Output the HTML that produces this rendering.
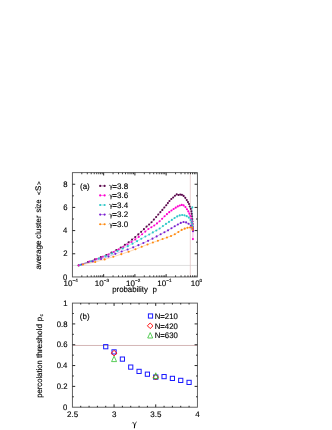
<!DOCTYPE html>
<html><head><meta charset="utf-8"><title>figure</title>
<style>
html,body{margin:0;padding:0;background:#fff;}
body{width:332px;height:430px;overflow:hidden;font-family:"Liberation Sans",sans-serif;}
svg{display:block;}
svg text{font-family:"Liberation Sans",sans-serif;text-rendering:geometricPrecision;stroke:#000;stroke-width:0.14px;}
svg{filter:blur(0.3px);}
</style></head><body>
<svg width="332" height="430" viewBox="0 0 332 430">
<rect x="0" y="0" width="332" height="430" fill="#ffffff"/>
<line x1="72.40" y1="265.45" x2="197.40" y2="265.45" stroke="#c4c4c4" stroke-width="0.55" />
<line x1="190.31" y1="172.65" x2="190.31" y2="276.95" stroke="#e0c0c0" stroke-width="0.75" />
<path d="M78.60,265.38 L88.00,261.93 L94.92,259.40 L100.86,257.10 L106.36,254.94 L111.48,252.50 L116.29,250.02 L120.78,247.57 L124.89,244.78 L128.63,242.23 L132.05,239.60 L135.25,236.94 L138.29,234.42 L141.17,231.85 L143.93,229.14 L146.57,226.62 L149.11,224.48 L151.54,222.29 L153.88,219.61 L156.13,217.02 L158.28,214.52 L160.35,212.14 L162.34,209.88 L164.31,207.56 L166.24,205.18 L167.86,203.12 L169.46,201.00 L171.32,199.05 L173.15,197.49 L174.96,195.69 L176.73,194.33 L178.48,195.03 L180.20,194.62 L181.90,194.83 L183.60,195.90 L185.30,197.85 L186.75,200.12 L187.98,202.10 L189.02,204.03 L189.77,206.46 L190.82,208.86 L191.46,211.36 L191.85,213.86 L192.10,216.33 L192.30,218.93 L192.48,221.60 L192.62,224.05 L192.75,227.00" fill="none" stroke="#5c0a4e" stroke-width="0.32"/>
<g fill="#5c0a4e"><circle cx="78.60" cy="265.38" r="1.05"/><circle cx="88.00" cy="261.93" r="1.05"/><circle cx="94.92" cy="259.40" r="1.05"/><circle cx="100.86" cy="257.10" r="1.05"/><circle cx="106.36" cy="254.94" r="1.05"/><circle cx="111.48" cy="252.50" r="1.05"/><circle cx="116.29" cy="250.02" r="1.05"/><circle cx="120.78" cy="247.57" r="1.05"/><circle cx="124.89" cy="244.78" r="1.05"/><circle cx="128.63" cy="242.23" r="1.05"/><circle cx="132.05" cy="239.60" r="1.05"/><circle cx="135.25" cy="236.94" r="1.05"/><circle cx="138.29" cy="234.42" r="1.05"/><circle cx="141.17" cy="231.85" r="1.05"/><circle cx="143.93" cy="229.14" r="1.05"/><circle cx="146.57" cy="226.62" r="1.05"/><circle cx="149.11" cy="224.48" r="1.05"/><circle cx="151.54" cy="222.29" r="1.05"/><circle cx="153.88" cy="219.61" r="1.05"/><circle cx="156.13" cy="217.02" r="1.05"/><circle cx="158.28" cy="214.52" r="1.05"/><circle cx="160.35" cy="212.14" r="1.05"/><circle cx="162.34" cy="209.88" r="1.05"/><circle cx="164.31" cy="207.56" r="1.05"/><circle cx="166.24" cy="205.18" r="1.05"/><circle cx="167.86" cy="203.12" r="1.05"/><circle cx="169.46" cy="201.00" r="1.05"/><circle cx="171.32" cy="199.05" r="1.05"/><circle cx="173.15" cy="197.49" r="1.05"/><circle cx="174.96" cy="195.69" r="1.05"/><circle cx="176.73" cy="194.33" r="1.05"/><circle cx="178.48" cy="195.03" r="1.05"/><circle cx="180.20" cy="194.62" r="1.05"/><circle cx="181.90" cy="194.83" r="1.05"/><circle cx="183.60" cy="195.90" r="1.05"/><circle cx="185.30" cy="197.85" r="1.05"/><circle cx="186.75" cy="200.12" r="1.05"/><circle cx="187.98" cy="202.10" r="1.05"/><circle cx="189.02" cy="204.03" r="1.05"/><circle cx="189.77" cy="206.46" r="1.05"/><circle cx="190.82" cy="208.86" r="1.05"/><circle cx="191.46" cy="211.36" r="1.05"/><circle cx="191.85" cy="213.86" r="1.05"/><circle cx="192.10" cy="216.33" r="1.05"/><circle cx="192.30" cy="218.93" r="1.05"/><circle cx="192.48" cy="221.60" r="1.05"/><circle cx="192.62" cy="224.05" r="1.05"/><circle cx="192.75" cy="227.00" r="1.05"/></g>
<path d="M79.00,265.24 L89.40,261.55 L96.42,259.05 L102.70,256.74 L108.49,254.56 L113.81,251.94 L118.70,249.54 L123.26,247.01 L127.53,244.54 L131.51,242.03 L135.24,239.38 L138.73,236.90 L142.08,234.26 L145.30,231.58 L148.40,229.00 L151.37,227.21 L154.23,225.48 L156.97,223.40 L159.61,221.31 L162.14,218.76 L164.58,216.25 L166.93,214.15 L169.23,212.17 L171.46,210.57 L173.63,209.02 L175.74,207.63 L177.79,206.39 L179.79,205.56 L181.73,204.92 L183.62,205.41 L185.46,207.11 L186.99,209.18 L188.29,211.40 L189.39,213.67 L190.33,216.02 L191.27,218.69 L191.95,221.47 L192.37,223.86 L192.67,226.33 L192.85,229.10 L192.95,230.70 L192.90,239.10" fill="none" stroke="#ff00d0" stroke-width="0.32"/>
<g fill="#ff00d0"><circle cx="79.00" cy="265.24" r="1.05"/><circle cx="89.40" cy="261.55" r="1.05"/><circle cx="96.42" cy="259.05" r="1.05"/><circle cx="102.70" cy="256.74" r="1.05"/><circle cx="108.49" cy="254.56" r="1.05"/><circle cx="113.81" cy="251.94" r="1.05"/><circle cx="118.70" cy="249.54" r="1.05"/><circle cx="123.26" cy="247.01" r="1.05"/><circle cx="127.53" cy="244.54" r="1.05"/><circle cx="131.51" cy="242.03" r="1.05"/><circle cx="135.24" cy="239.38" r="1.05"/><circle cx="138.73" cy="236.90" r="1.05"/><circle cx="142.08" cy="234.26" r="1.05"/><circle cx="145.30" cy="231.58" r="1.05"/><circle cx="148.40" cy="229.00" r="1.05"/><circle cx="151.37" cy="227.21" r="1.05"/><circle cx="154.23" cy="225.48" r="1.05"/><circle cx="156.97" cy="223.40" r="1.05"/><circle cx="159.61" cy="221.31" r="1.05"/><circle cx="162.14" cy="218.76" r="1.05"/><circle cx="164.58" cy="216.25" r="1.05"/><circle cx="166.93" cy="214.15" r="1.05"/><circle cx="169.23" cy="212.17" r="1.05"/><circle cx="171.46" cy="210.57" r="1.05"/><circle cx="173.63" cy="209.02" r="1.05"/><circle cx="175.74" cy="207.63" r="1.05"/><circle cx="177.79" cy="206.39" r="1.05"/><circle cx="179.79" cy="205.56" r="1.05"/><circle cx="181.73" cy="204.92" r="1.05"/><circle cx="183.62" cy="205.41" r="1.05"/><circle cx="185.46" cy="207.11" r="1.05"/><circle cx="186.99" cy="209.18" r="1.05"/><circle cx="188.29" cy="211.40" r="1.05"/><circle cx="189.39" cy="213.67" r="1.05"/><circle cx="190.33" cy="216.02" r="1.05"/><circle cx="191.27" cy="218.69" r="1.05"/><circle cx="191.95" cy="221.47" r="1.05"/><circle cx="192.37" cy="223.86" r="1.05"/><circle cx="192.67" cy="226.33" r="1.05"/><circle cx="192.85" cy="229.10" r="1.05"/><circle cx="192.95" cy="230.70" r="1.05"/><circle cx="192.90" cy="239.10" r="1.05"/></g>
<path d="M80.30,264.83 L91.21,261.20 L98.85,258.58 L105.65,256.14 L111.86,253.56 L117.54,251.01 L122.81,248.55 L127.81,246.15 L132.55,243.67 L137.04,241.16 L141.31,238.78 L145.36,236.55 L149.20,234.44 L152.84,232.42 L156.33,230.48 L159.68,228.50 L162.90,226.11 L166.00,223.91 L168.98,221.92 L171.84,219.88 L174.58,218.03 L177.21,216.39 L179.74,215.39 L182.16,214.95 L184.48,215.36 L186.70,216.17 L188.84,217.61 L190.58,220.04 L191.62,222.52 L192.26,224.98 L192.60,227.00 L192.30,207.40" fill="none" stroke="#2ec8c8" stroke-width="0.32"/>
<g fill="#2ec8c8"><circle cx="80.30" cy="264.83" r="1.05"/><circle cx="91.21" cy="261.20" r="1.05"/><circle cx="98.85" cy="258.58" r="1.05"/><circle cx="105.65" cy="256.14" r="1.05"/><circle cx="111.86" cy="253.56" r="1.05"/><circle cx="117.54" cy="251.01" r="1.05"/><circle cx="122.81" cy="248.55" r="1.05"/><circle cx="127.81" cy="246.15" r="1.05"/><circle cx="132.55" cy="243.67" r="1.05"/><circle cx="137.04" cy="241.16" r="1.05"/><circle cx="141.31" cy="238.78" r="1.05"/><circle cx="145.36" cy="236.55" r="1.05"/><circle cx="149.20" cy="234.44" r="1.05"/><circle cx="152.84" cy="232.42" r="1.05"/><circle cx="156.33" cy="230.48" r="1.05"/><circle cx="159.68" cy="228.50" r="1.05"/><circle cx="162.90" cy="226.11" r="1.05"/><circle cx="166.00" cy="223.91" r="1.05"/><circle cx="168.98" cy="221.92" r="1.05"/><circle cx="171.84" cy="219.88" r="1.05"/><circle cx="174.58" cy="218.03" r="1.05"/><circle cx="177.21" cy="216.39" r="1.05"/><circle cx="179.74" cy="215.39" r="1.05"/><circle cx="182.16" cy="214.95" r="1.05"/><circle cx="184.48" cy="215.36" r="1.05"/><circle cx="186.70" cy="216.17" r="1.05"/><circle cx="188.84" cy="217.61" r="1.05"/><circle cx="190.58" cy="220.04" r="1.05"/><circle cx="191.62" cy="222.52" r="1.05"/><circle cx="192.26" cy="224.98" r="1.05"/><circle cx="192.60" cy="227.00" r="1.05"/><circle cx="192.30" cy="207.40" r="1.05"/></g>
<path d="M81.70,264.55 L92.77,261.42 L101.03,258.95 L108.53,256.59 L115.39,253.84 L121.67,251.45 L127.59,249.50 L133.17,247.37 L138.43,245.16 L143.39,242.97 L148.07,240.87 L152.48,238.66 L156.66,236.40 L160.64,234.26 L164.43,232.25 L168.04,230.34 L171.47,228.32 L174.74,226.23 L177.85,224.47 L180.78,222.89 L183.54,222.07 L186.12,222.41 L188.56,223.70 L190.84,225.79 L192.43,228.34 L192.70,229.20 L193.00,231.30" fill="none" stroke="#7a1fd0" stroke-width="0.32"/>
<g fill="#7a1fd0"><circle cx="81.70" cy="264.55" r="1.05"/><circle cx="92.77" cy="261.42" r="1.05"/><circle cx="101.03" cy="258.95" r="1.05"/><circle cx="108.53" cy="256.59" r="1.05"/><circle cx="115.39" cy="253.84" r="1.05"/><circle cx="121.67" cy="251.45" r="1.05"/><circle cx="127.59" cy="249.50" r="1.05"/><circle cx="133.17" cy="247.37" r="1.05"/><circle cx="138.43" cy="245.16" r="1.05"/><circle cx="143.39" cy="242.97" r="1.05"/><circle cx="148.07" cy="240.87" r="1.05"/><circle cx="152.48" cy="238.66" r="1.05"/><circle cx="156.66" cy="236.40" r="1.05"/><circle cx="160.64" cy="234.26" r="1.05"/><circle cx="164.43" cy="232.25" r="1.05"/><circle cx="168.04" cy="230.34" r="1.05"/><circle cx="171.47" cy="228.32" r="1.05"/><circle cx="174.74" cy="226.23" r="1.05"/><circle cx="177.85" cy="224.47" r="1.05"/><circle cx="180.78" cy="222.89" r="1.05"/><circle cx="183.54" cy="222.07" r="1.05"/><circle cx="186.12" cy="222.41" r="1.05"/><circle cx="188.56" cy="223.70" r="1.05"/><circle cx="190.84" cy="225.79" r="1.05"/><circle cx="192.43" cy="228.34" r="1.05"/><circle cx="192.70" cy="229.20" r="1.05"/><circle cx="193.00" cy="231.30" r="1.05"/></g>
<path d="M83.00,264.54 L95.20,261.97 L104.68,259.41 L113.36,256.76 L121.30,254.17 L128.63,251.75 L135.42,249.24 L141.70,246.82 L147.52,244.49 L152.90,242.48 L157.91,240.73 L162.58,239.07 L166.94,237.50 L171.01,235.96 L174.81,234.25 L178.36,232.02 L181.65,229.91 L184.70,228.67 L187.50,227.73 L190.10,227.43 L192.20,227.60 L192.60,229.70" fill="none" stroke="#ff8a10" stroke-width="0.32"/>
<g fill="#ff8a10"><circle cx="83.00" cy="264.54" r="1.05"/><circle cx="95.20" cy="261.97" r="1.05"/><circle cx="104.68" cy="259.41" r="1.05"/><circle cx="113.36" cy="256.76" r="1.05"/><circle cx="121.30" cy="254.17" r="1.05"/><circle cx="128.63" cy="251.75" r="1.05"/><circle cx="135.42" cy="249.24" r="1.05"/><circle cx="141.70" cy="246.82" r="1.05"/><circle cx="147.52" cy="244.49" r="1.05"/><circle cx="152.90" cy="242.48" r="1.05"/><circle cx="157.91" cy="240.73" r="1.05"/><circle cx="162.58" cy="239.07" r="1.05"/><circle cx="166.94" cy="237.50" r="1.05"/><circle cx="171.01" cy="235.96" r="1.05"/><circle cx="174.81" cy="234.25" r="1.05"/><circle cx="178.36" cy="232.02" r="1.05"/><circle cx="181.65" cy="229.91" r="1.05"/><circle cx="184.70" cy="228.67" r="1.05"/><circle cx="187.50" cy="227.73" r="1.05"/><circle cx="190.10" cy="227.43" r="1.05"/><circle cx="192.20" cy="227.60" r="1.05"/><circle cx="192.60" cy="229.70" r="1.05"/></g>
<rect x="72.4" y="172.65" width="125.00" height="104.30" fill="none" stroke="#505050" stroke-width="0.9"/>
<text x="63.12" y="279.55" font-size="8.0" fill="#000" textLength="4.27" lengthAdjust="spacingAndGlyphs">0</text>
<line x1="72.40" y1="253.77" x2="75.20" y2="253.77" stroke="#1a1a1a" stroke-width="0.95" />
<line x1="197.40" y1="253.77" x2="194.60" y2="253.77" stroke="#1a1a1a" stroke-width="0.95" />
<text x="63.21" y="256.37" font-size="8.0" fill="#000" textLength="4.27" lengthAdjust="spacingAndGlyphs">2</text>
<line x1="72.40" y1="242.18" x2="73.80" y2="242.18" stroke="#1a1a1a" stroke-width="0.95" />
<line x1="197.40" y1="242.18" x2="196.00" y2="242.18" stroke="#1a1a1a" stroke-width="0.95" />
<line x1="72.40" y1="230.59" x2="75.20" y2="230.59" stroke="#1a1a1a" stroke-width="0.95" />
<line x1="197.40" y1="230.59" x2="194.60" y2="230.59" stroke="#1a1a1a" stroke-width="0.95" />
<text x="63.05" y="233.19" font-size="8.0" fill="#000" textLength="4.27" lengthAdjust="spacingAndGlyphs">4</text>
<line x1="72.40" y1="219.01" x2="73.80" y2="219.01" stroke="#1a1a1a" stroke-width="0.95" />
<line x1="197.40" y1="219.01" x2="196.00" y2="219.01" stroke="#1a1a1a" stroke-width="0.95" />
<line x1="72.40" y1="207.42" x2="75.20" y2="207.42" stroke="#1a1a1a" stroke-width="0.95" />
<line x1="197.40" y1="207.42" x2="194.60" y2="207.42" stroke="#1a1a1a" stroke-width="0.95" />
<text x="63.16" y="210.02" font-size="8.0" fill="#000" textLength="4.27" lengthAdjust="spacingAndGlyphs">6</text>
<line x1="72.40" y1="195.83" x2="73.80" y2="195.83" stroke="#1a1a1a" stroke-width="0.95" />
<line x1="197.40" y1="195.83" x2="196.00" y2="195.83" stroke="#1a1a1a" stroke-width="0.95" />
<line x1="72.40" y1="184.24" x2="75.20" y2="184.24" stroke="#1a1a1a" stroke-width="0.95" />
<line x1="197.40" y1="184.24" x2="194.60" y2="184.24" stroke="#1a1a1a" stroke-width="0.95" />
<text x="63.16" y="186.84" font-size="8.0" fill="#000" textLength="4.27" lengthAdjust="spacingAndGlyphs">8</text>
<line x1="81.81" y1="276.95" x2="81.81" y2="275.35" stroke="#1a1a1a" stroke-width="0.85" />
<line x1="81.81" y1="172.65" x2="81.81" y2="174.25" stroke="#1a1a1a" stroke-width="0.85" />
<line x1="87.31" y1="276.95" x2="87.31" y2="275.35" stroke="#1a1a1a" stroke-width="0.85" />
<line x1="87.31" y1="172.65" x2="87.31" y2="174.25" stroke="#1a1a1a" stroke-width="0.85" />
<line x1="91.21" y1="276.95" x2="91.21" y2="275.35" stroke="#1a1a1a" stroke-width="0.85" />
<line x1="91.21" y1="172.65" x2="91.21" y2="174.25" stroke="#1a1a1a" stroke-width="0.85" />
<line x1="94.24" y1="276.95" x2="94.24" y2="275.35" stroke="#1a1a1a" stroke-width="0.85" />
<line x1="94.24" y1="172.65" x2="94.24" y2="174.25" stroke="#1a1a1a" stroke-width="0.85" />
<line x1="96.72" y1="276.95" x2="96.72" y2="275.35" stroke="#1a1a1a" stroke-width="0.85" />
<line x1="96.72" y1="172.65" x2="96.72" y2="174.25" stroke="#1a1a1a" stroke-width="0.85" />
<line x1="98.81" y1="276.95" x2="98.81" y2="275.35" stroke="#1a1a1a" stroke-width="0.85" />
<line x1="98.81" y1="172.65" x2="98.81" y2="174.25" stroke="#1a1a1a" stroke-width="0.85" />
<line x1="100.62" y1="276.95" x2="100.62" y2="275.35" stroke="#1a1a1a" stroke-width="0.85" />
<line x1="100.62" y1="172.65" x2="100.62" y2="174.25" stroke="#1a1a1a" stroke-width="0.85" />
<line x1="102.22" y1="276.95" x2="102.22" y2="275.35" stroke="#1a1a1a" stroke-width="0.85" />
<line x1="102.22" y1="172.65" x2="102.22" y2="174.25" stroke="#1a1a1a" stroke-width="0.85" />
<text x="63.60" y="285.6" font-size="8" fill="#000">10<tspan font-size="4.6" dy="-3.6">&#8722;4</tspan></text>
<line x1="103.65" y1="276.95" x2="103.65" y2="274.15" stroke="#1a1a1a" stroke-width="0.95" />
<line x1="103.65" y1="172.65" x2="103.65" y2="175.45" stroke="#1a1a1a" stroke-width="0.95" />
<line x1="113.06" y1="276.95" x2="113.06" y2="275.35" stroke="#1a1a1a" stroke-width="0.85" />
<line x1="113.06" y1="172.65" x2="113.06" y2="174.25" stroke="#1a1a1a" stroke-width="0.85" />
<line x1="118.56" y1="276.95" x2="118.56" y2="275.35" stroke="#1a1a1a" stroke-width="0.85" />
<line x1="118.56" y1="172.65" x2="118.56" y2="174.25" stroke="#1a1a1a" stroke-width="0.85" />
<line x1="122.46" y1="276.95" x2="122.46" y2="275.35" stroke="#1a1a1a" stroke-width="0.85" />
<line x1="122.46" y1="172.65" x2="122.46" y2="174.25" stroke="#1a1a1a" stroke-width="0.85" />
<line x1="125.49" y1="276.95" x2="125.49" y2="275.35" stroke="#1a1a1a" stroke-width="0.85" />
<line x1="125.49" y1="172.65" x2="125.49" y2="174.25" stroke="#1a1a1a" stroke-width="0.85" />
<line x1="127.97" y1="276.95" x2="127.97" y2="275.35" stroke="#1a1a1a" stroke-width="0.85" />
<line x1="127.97" y1="172.65" x2="127.97" y2="174.25" stroke="#1a1a1a" stroke-width="0.85" />
<line x1="130.06" y1="276.95" x2="130.06" y2="275.35" stroke="#1a1a1a" stroke-width="0.85" />
<line x1="130.06" y1="172.65" x2="130.06" y2="174.25" stroke="#1a1a1a" stroke-width="0.85" />
<line x1="131.87" y1="276.95" x2="131.87" y2="275.35" stroke="#1a1a1a" stroke-width="0.85" />
<line x1="131.87" y1="172.65" x2="131.87" y2="174.25" stroke="#1a1a1a" stroke-width="0.85" />
<line x1="133.47" y1="276.95" x2="133.47" y2="275.35" stroke="#1a1a1a" stroke-width="0.85" />
<line x1="133.47" y1="172.65" x2="133.47" y2="174.25" stroke="#1a1a1a" stroke-width="0.85" />
<text x="94.85" y="285.6" font-size="8" fill="#000">10<tspan font-size="4.6" dy="-3.6">&#8722;3</tspan></text>
<line x1="134.90" y1="276.95" x2="134.90" y2="274.15" stroke="#1a1a1a" stroke-width="0.95" />
<line x1="134.90" y1="172.65" x2="134.90" y2="175.45" stroke="#1a1a1a" stroke-width="0.95" />
<line x1="144.31" y1="276.95" x2="144.31" y2="275.35" stroke="#1a1a1a" stroke-width="0.85" />
<line x1="144.31" y1="172.65" x2="144.31" y2="174.25" stroke="#1a1a1a" stroke-width="0.85" />
<line x1="149.81" y1="276.95" x2="149.81" y2="275.35" stroke="#1a1a1a" stroke-width="0.85" />
<line x1="149.81" y1="172.65" x2="149.81" y2="174.25" stroke="#1a1a1a" stroke-width="0.85" />
<line x1="153.71" y1="276.95" x2="153.71" y2="275.35" stroke="#1a1a1a" stroke-width="0.85" />
<line x1="153.71" y1="172.65" x2="153.71" y2="174.25" stroke="#1a1a1a" stroke-width="0.85" />
<line x1="156.74" y1="276.95" x2="156.74" y2="275.35" stroke="#1a1a1a" stroke-width="0.85" />
<line x1="156.74" y1="172.65" x2="156.74" y2="174.25" stroke="#1a1a1a" stroke-width="0.85" />
<line x1="159.22" y1="276.95" x2="159.22" y2="275.35" stroke="#1a1a1a" stroke-width="0.85" />
<line x1="159.22" y1="172.65" x2="159.22" y2="174.25" stroke="#1a1a1a" stroke-width="0.85" />
<line x1="161.31" y1="276.95" x2="161.31" y2="275.35" stroke="#1a1a1a" stroke-width="0.85" />
<line x1="161.31" y1="172.65" x2="161.31" y2="174.25" stroke="#1a1a1a" stroke-width="0.85" />
<line x1="163.12" y1="276.95" x2="163.12" y2="275.35" stroke="#1a1a1a" stroke-width="0.85" />
<line x1="163.12" y1="172.65" x2="163.12" y2="174.25" stroke="#1a1a1a" stroke-width="0.85" />
<line x1="164.72" y1="276.95" x2="164.72" y2="275.35" stroke="#1a1a1a" stroke-width="0.85" />
<line x1="164.72" y1="172.65" x2="164.72" y2="174.25" stroke="#1a1a1a" stroke-width="0.85" />
<text x="126.10" y="285.6" font-size="8" fill="#000">10<tspan font-size="4.6" dy="-3.6">&#8722;2</tspan></text>
<line x1="166.15" y1="276.95" x2="166.15" y2="274.15" stroke="#1a1a1a" stroke-width="0.95" />
<line x1="166.15" y1="172.65" x2="166.15" y2="175.45" stroke="#1a1a1a" stroke-width="0.95" />
<line x1="175.56" y1="276.95" x2="175.56" y2="275.35" stroke="#1a1a1a" stroke-width="0.85" />
<line x1="175.56" y1="172.65" x2="175.56" y2="174.25" stroke="#1a1a1a" stroke-width="0.85" />
<line x1="181.06" y1="276.95" x2="181.06" y2="275.35" stroke="#1a1a1a" stroke-width="0.85" />
<line x1="181.06" y1="172.65" x2="181.06" y2="174.25" stroke="#1a1a1a" stroke-width="0.85" />
<line x1="184.96" y1="276.95" x2="184.96" y2="275.35" stroke="#1a1a1a" stroke-width="0.85" />
<line x1="184.96" y1="172.65" x2="184.96" y2="174.25" stroke="#1a1a1a" stroke-width="0.85" />
<line x1="187.99" y1="276.95" x2="187.99" y2="275.35" stroke="#1a1a1a" stroke-width="0.85" />
<line x1="187.99" y1="172.65" x2="187.99" y2="174.25" stroke="#1a1a1a" stroke-width="0.85" />
<line x1="190.47" y1="276.95" x2="190.47" y2="275.35" stroke="#1a1a1a" stroke-width="0.85" />
<line x1="190.47" y1="172.65" x2="190.47" y2="174.25" stroke="#1a1a1a" stroke-width="0.85" />
<line x1="192.56" y1="276.95" x2="192.56" y2="275.35" stroke="#1a1a1a" stroke-width="0.85" />
<line x1="192.56" y1="172.65" x2="192.56" y2="174.25" stroke="#1a1a1a" stroke-width="0.85" />
<line x1="194.37" y1="276.95" x2="194.37" y2="275.35" stroke="#1a1a1a" stroke-width="0.85" />
<line x1="194.37" y1="172.65" x2="194.37" y2="174.25" stroke="#1a1a1a" stroke-width="0.85" />
<line x1="195.97" y1="276.95" x2="195.97" y2="275.35" stroke="#1a1a1a" stroke-width="0.85" />
<line x1="195.97" y1="172.65" x2="195.97" y2="174.25" stroke="#1a1a1a" stroke-width="0.85" />
<text x="157.35" y="285.6" font-size="8" fill="#000">10<tspan font-size="4.6" dy="-3.6">&#8722;1</tspan></text>
<text x="190.70" y="285.6" font-size="8" fill="#000">10<tspan font-size="4.6" dy="-3.6">0</tspan></text>
<line x1="99.40" y1="185.90" x2="105.40" y2="185.90" stroke="#5c0a4e" stroke-width="0.5" />
<circle cx="100.2" cy="185.9" r="1.05" fill="#5c0a4e"/><circle cx="104.6" cy="185.9" r="1.05" fill="#5c0a4e"/>
<g transform="translate(109.30,188.60) scale(0.82)" fill="none" stroke="#000" stroke-linecap="round" stroke-linejoin="round"><path d="M0,-3.7 Q0.6,-5.0 1.3,-3.8 L2.2,-1.5" stroke-width="0.65"/><path d="M3.8,-4.6 L2.2,-1.5" stroke-width="0.6"/><path d="M2.25,-1.8 L2.0,1.0" stroke-width="0.95"/></g>
<text x="112.30" y="188.60" font-size="8" text-anchor="start" fill="#000" >=3.8</text>
<line x1="99.40" y1="195.40" x2="105.40" y2="195.40" stroke="#ff00d0" stroke-width="0.5" />
<circle cx="100.2" cy="195.4" r="1.05" fill="#ff00d0"/><circle cx="104.6" cy="195.4" r="1.05" fill="#ff00d0"/>
<g transform="translate(109.30,198.10) scale(0.82)" fill="none" stroke="#000" stroke-linecap="round" stroke-linejoin="round"><path d="M0,-3.7 Q0.6,-5.0 1.3,-3.8 L2.2,-1.5" stroke-width="0.65"/><path d="M3.8,-4.6 L2.2,-1.5" stroke-width="0.6"/><path d="M2.25,-1.8 L2.0,1.0" stroke-width="0.95"/></g>
<text x="112.30" y="198.10" font-size="8" text-anchor="start" fill="#000" >=3.6</text>
<line x1="99.40" y1="205.00" x2="105.40" y2="205.00" stroke="#2ec8c8" stroke-width="0.5" />
<circle cx="100.2" cy="205.0" r="1.05" fill="#2ec8c8"/><circle cx="104.6" cy="205.0" r="1.05" fill="#2ec8c8"/>
<g transform="translate(109.30,207.70) scale(0.82)" fill="none" stroke="#000" stroke-linecap="round" stroke-linejoin="round"><path d="M0,-3.7 Q0.6,-5.0 1.3,-3.8 L2.2,-1.5" stroke-width="0.65"/><path d="M3.8,-4.6 L2.2,-1.5" stroke-width="0.6"/><path d="M2.25,-1.8 L2.0,1.0" stroke-width="0.95"/></g>
<text x="112.30" y="207.70" font-size="8" text-anchor="start" fill="#000" >=3.4</text>
<line x1="99.40" y1="214.60" x2="105.40" y2="214.60" stroke="#7a1fd0" stroke-width="0.5" />
<circle cx="100.2" cy="214.6" r="1.05" fill="#7a1fd0"/><circle cx="104.6" cy="214.6" r="1.05" fill="#7a1fd0"/>
<g transform="translate(109.30,217.30) scale(0.82)" fill="none" stroke="#000" stroke-linecap="round" stroke-linejoin="round"><path d="M0,-3.7 Q0.6,-5.0 1.3,-3.8 L2.2,-1.5" stroke-width="0.65"/><path d="M3.8,-4.6 L2.2,-1.5" stroke-width="0.6"/><path d="M2.25,-1.8 L2.0,1.0" stroke-width="0.95"/></g>
<text x="112.30" y="217.30" font-size="8" text-anchor="start" fill="#000" >=3.2</text>
<line x1="99.40" y1="224.30" x2="105.40" y2="224.30" stroke="#ff8a10" stroke-width="0.5" />
<circle cx="100.2" cy="224.3" r="1.05" fill="#ff8a10"/><circle cx="104.6" cy="224.3" r="1.05" fill="#ff8a10"/>
<g transform="translate(109.30,227.00) scale(0.82)" fill="none" stroke="#000" stroke-linecap="round" stroke-linejoin="round"><path d="M0,-3.7 Q0.6,-5.0 1.3,-3.8 L2.2,-1.5" stroke-width="0.65"/><path d="M3.8,-4.6 L2.2,-1.5" stroke-width="0.6"/><path d="M2.25,-1.8 L2.0,1.0" stroke-width="0.95"/></g>
<text x="112.30" y="227.00" font-size="8" text-anchor="start" fill="#000" >=3.0</text>
<text x="80.00" y="188.60" font-size="8" text-anchor="start" fill="#000" >(a)</text>
<text x="112.15" y="292.40" font-size="8.0" fill="#000" textLength="35.82" lengthAdjust="spacingAndGlyphs">probability</text>
<text x="152.59" y="292.40" font-size="8.0" fill="#000" textLength="4.45" lengthAdjust="spacingAndGlyphs">p</text>
<text transform="translate(41.20,269.59) rotate(-90)" font-size="8.0" fill="#000" textLength="28.99" lengthAdjust="spacingAndGlyphs">average</text>
<text transform="translate(41.20,238.68) rotate(-90)" font-size="8.0" fill="#000" textLength="23.26" lengthAdjust="spacingAndGlyphs">cluster</text>
<text transform="translate(41.20,212.55) rotate(-90)" font-size="8.0" fill="#000" textLength="13.13" lengthAdjust="spacingAndGlyphs">size</text>
<text transform="translate(41.20,195.10) rotate(-90)" font-size="6.2" fill="#000" textLength="3.62" lengthAdjust="spacingAndGlyphs">&lt;</text>
<text transform="translate(41.20,191.06) rotate(-90)" font-size="8.0" fill="#000" textLength="5.34" lengthAdjust="spacingAndGlyphs">S</text>
<text transform="translate(41.20,185.10) rotate(-90)" font-size="6.2" fill="#000" textLength="3.62" lengthAdjust="spacingAndGlyphs">&gt;</text>
<line x1="72.40" y1="345.47" x2="197.40" y2="345.47" stroke="#c9a3a3" stroke-width="0.8" />
<rect x="72.4" y="303.1" width="125.00" height="104.10" fill="none" stroke="#505050" stroke-width="0.9"/>
<text x="63.12" y="409.80" font-size="8.0" fill="#000" textLength="4.27" lengthAdjust="spacingAndGlyphs">0</text>
<line x1="72.40" y1="396.79" x2="73.80" y2="396.79" stroke="#1a1a1a" stroke-width="0.95" />
<line x1="197.40" y1="396.79" x2="196.00" y2="396.79" stroke="#1a1a1a" stroke-width="0.95" />
<line x1="72.40" y1="386.38" x2="75.20" y2="386.38" stroke="#1a1a1a" stroke-width="0.95" />
<line x1="197.40" y1="386.38" x2="194.60" y2="386.38" stroke="#1a1a1a" stroke-width="0.95" />
<text x="56.81" y="388.98" font-size="8.0" fill="#000" textLength="10.68" lengthAdjust="spacingAndGlyphs">0.2</text>
<line x1="72.40" y1="375.97" x2="73.80" y2="375.97" stroke="#1a1a1a" stroke-width="0.95" />
<line x1="197.40" y1="375.97" x2="196.00" y2="375.97" stroke="#1a1a1a" stroke-width="0.95" />
<line x1="72.40" y1="365.56" x2="75.20" y2="365.56" stroke="#1a1a1a" stroke-width="0.95" />
<line x1="197.40" y1="365.56" x2="194.60" y2="365.56" stroke="#1a1a1a" stroke-width="0.95" />
<text x="56.65" y="368.16" font-size="8.0" fill="#000" textLength="10.68" lengthAdjust="spacingAndGlyphs">0.4</text>
<line x1="72.40" y1="355.15" x2="73.80" y2="355.15" stroke="#1a1a1a" stroke-width="0.95" />
<line x1="197.40" y1="355.15" x2="196.00" y2="355.15" stroke="#1a1a1a" stroke-width="0.95" />
<line x1="72.40" y1="344.74" x2="75.20" y2="344.74" stroke="#1a1a1a" stroke-width="0.95" />
<line x1="197.40" y1="344.74" x2="194.60" y2="344.74" stroke="#1a1a1a" stroke-width="0.95" />
<text x="56.76" y="347.34" font-size="8.0" fill="#000" textLength="10.68" lengthAdjust="spacingAndGlyphs">0.6</text>
<line x1="72.40" y1="334.33" x2="73.80" y2="334.33" stroke="#1a1a1a" stroke-width="0.95" />
<line x1="197.40" y1="334.33" x2="196.00" y2="334.33" stroke="#1a1a1a" stroke-width="0.95" />
<line x1="72.40" y1="323.92" x2="75.20" y2="323.92" stroke="#1a1a1a" stroke-width="0.95" />
<line x1="197.40" y1="323.92" x2="194.60" y2="323.92" stroke="#1a1a1a" stroke-width="0.95" />
<text x="56.76" y="326.52" font-size="8.0" fill="#000" textLength="10.68" lengthAdjust="spacingAndGlyphs">0.8</text>
<line x1="72.40" y1="313.51" x2="73.80" y2="313.51" stroke="#1a1a1a" stroke-width="0.95" />
<line x1="197.40" y1="313.51" x2="196.00" y2="313.51" stroke="#1a1a1a" stroke-width="0.95" />
<text x="63.20" y="305.70" font-size="8.0" fill="#000" textLength="4.27" lengthAdjust="spacingAndGlyphs">1</text>
<text x="72.60" y="416.65" font-size="8" text-anchor="middle" fill="#000" >2.5</text>
<line x1="80.73" y1="407.20" x2="80.73" y2="405.80" stroke="#1a1a1a" stroke-width="0.95" />
<line x1="80.73" y1="303.10" x2="80.73" y2="304.50" stroke="#1a1a1a" stroke-width="0.95" />
<line x1="89.07" y1="407.20" x2="89.07" y2="405.80" stroke="#1a1a1a" stroke-width="0.95" />
<line x1="89.07" y1="303.10" x2="89.07" y2="304.50" stroke="#1a1a1a" stroke-width="0.95" />
<line x1="97.40" y1="407.20" x2="97.40" y2="405.80" stroke="#1a1a1a" stroke-width="0.95" />
<line x1="97.40" y1="303.10" x2="97.40" y2="304.50" stroke="#1a1a1a" stroke-width="0.95" />
<line x1="105.73" y1="407.20" x2="105.73" y2="405.80" stroke="#1a1a1a" stroke-width="0.95" />
<line x1="105.73" y1="303.10" x2="105.73" y2="304.50" stroke="#1a1a1a" stroke-width="0.95" />
<line x1="114.07" y1="407.20" x2="114.07" y2="404.40" stroke="#1a1a1a" stroke-width="0.95" />
<line x1="114.07" y1="303.10" x2="114.07" y2="305.90" stroke="#1a1a1a" stroke-width="0.95" />
<text x="114.27" y="416.65" font-size="8" text-anchor="middle" fill="#000" >3</text>
<line x1="122.40" y1="407.20" x2="122.40" y2="405.80" stroke="#1a1a1a" stroke-width="0.95" />
<line x1="122.40" y1="303.10" x2="122.40" y2="304.50" stroke="#1a1a1a" stroke-width="0.95" />
<line x1="130.73" y1="407.20" x2="130.73" y2="405.80" stroke="#1a1a1a" stroke-width="0.95" />
<line x1="130.73" y1="303.10" x2="130.73" y2="304.50" stroke="#1a1a1a" stroke-width="0.95" />
<line x1="139.07" y1="407.20" x2="139.07" y2="405.80" stroke="#1a1a1a" stroke-width="0.95" />
<line x1="139.07" y1="303.10" x2="139.07" y2="304.50" stroke="#1a1a1a" stroke-width="0.95" />
<line x1="147.40" y1="407.20" x2="147.40" y2="405.80" stroke="#1a1a1a" stroke-width="0.95" />
<line x1="147.40" y1="303.10" x2="147.40" y2="304.50" stroke="#1a1a1a" stroke-width="0.95" />
<line x1="155.73" y1="407.20" x2="155.73" y2="404.40" stroke="#1a1a1a" stroke-width="0.95" />
<line x1="155.73" y1="303.10" x2="155.73" y2="305.90" stroke="#1a1a1a" stroke-width="0.95" />
<text x="155.93" y="416.65" font-size="8" text-anchor="middle" fill="#000" >3.5</text>
<line x1="164.07" y1="407.20" x2="164.07" y2="405.80" stroke="#1a1a1a" stroke-width="0.95" />
<line x1="164.07" y1="303.10" x2="164.07" y2="304.50" stroke="#1a1a1a" stroke-width="0.95" />
<line x1="172.40" y1="407.20" x2="172.40" y2="405.80" stroke="#1a1a1a" stroke-width="0.95" />
<line x1="172.40" y1="303.10" x2="172.40" y2="304.50" stroke="#1a1a1a" stroke-width="0.95" />
<line x1="180.73" y1="407.20" x2="180.73" y2="405.80" stroke="#1a1a1a" stroke-width="0.95" />
<line x1="180.73" y1="303.10" x2="180.73" y2="304.50" stroke="#1a1a1a" stroke-width="0.95" />
<line x1="189.07" y1="407.20" x2="189.07" y2="405.80" stroke="#1a1a1a" stroke-width="0.95" />
<line x1="189.07" y1="303.10" x2="189.07" y2="304.50" stroke="#1a1a1a" stroke-width="0.95" />
<text x="197.60" y="416.65" font-size="8" text-anchor="middle" fill="#000" >4</text>
<rect x="103.63" y="344.60" width="4.2" height="4.2" fill="none" stroke="#1a1aff" stroke-width="1.0"/>
<rect x="111.97" y="349.80" width="4.2" height="4.2" fill="none" stroke="#1a1aff" stroke-width="1.0"/>
<rect x="120.30" y="357.00" width="4.2" height="4.2" fill="none" stroke="#1a1aff" stroke-width="1.0"/>
<rect x="128.63" y="365.00" width="4.2" height="4.2" fill="none" stroke="#1a1aff" stroke-width="1.0"/>
<rect x="136.97" y="369.30" width="4.2" height="4.2" fill="none" stroke="#1a1aff" stroke-width="1.0"/>
<rect x="145.30" y="372.10" width="4.2" height="4.2" fill="none" stroke="#1a1aff" stroke-width="1.0"/>
<rect x="153.63" y="375.00" width="4.2" height="4.2" fill="none" stroke="#1a1aff" stroke-width="1.0"/>
<rect x="161.97" y="374.50" width="4.2" height="4.2" fill="none" stroke="#1a1aff" stroke-width="1.0"/>
<rect x="170.30" y="376.30" width="4.2" height="4.2" fill="none" stroke="#1a1aff" stroke-width="1.0"/>
<rect x="178.63" y="378.30" width="4.2" height="4.2" fill="none" stroke="#1a1aff" stroke-width="1.0"/>
<rect x="186.97" y="380.30" width="4.2" height="4.2" fill="none" stroke="#1a1aff" stroke-width="1.0"/>
<path d="M114.07,350.30 L116.87,353.10 L114.07,355.90 L111.27,353.10 Z" fill="none" stroke="#ff1010" stroke-width="1.0"/>
<path d="M114.07,356.20 L116.57,361.60 L111.57,361.60 Z" fill="none" stroke="#30c030" stroke-width="0.8"/>
<path d="M155.73,374.30 L158.53,377.10 L155.73,379.90 L152.93,377.10 Z" fill="none" stroke="#ff1010" stroke-width="1.0"/>
<path d="M155.73,372.80 L158.23,378.60 L153.23,378.60 Z" fill="none" stroke="#30c030" stroke-width="0.8"/>
<rect x="148.40" y="313.90" width="4.2" height="4.2" fill="none" stroke="#1a1aff" stroke-width="1.0"/>
<path d="M150.20,323.00 L153.00,325.80 L150.20,328.60 L147.40,325.80 Z" fill="none" stroke="#ff1010" stroke-width="1.0"/>
<path d="M150.20,332.60 L152.70,338.00 L147.70,338.00 Z" fill="none" stroke="#30c030" stroke-width="0.8"/>
<text x="154.66" y="318.70" font-size="8.0" fill="#000" textLength="23.14" lengthAdjust="spacingAndGlyphs">N=210</text>
<text x="154.66" y="328.60" font-size="8.0" fill="#000" textLength="23.14" lengthAdjust="spacingAndGlyphs">N=420</text>
<text x="154.66" y="338.10" font-size="8.0" fill="#000" textLength="23.14" lengthAdjust="spacingAndGlyphs">N=630</text>
<text x="79.80" y="319.00" font-size="8" text-anchor="start" fill="#000" >(b)</text>
<g transform="translate(132.30,426.80) scale(1.05)" fill="none" stroke="#000" stroke-linecap="round" stroke-linejoin="round"><path d="M0,-3.7 Q0.6,-5.0 1.3,-3.8 L2.2,-1.5" stroke-width="0.65"/><path d="M3.8,-4.6 L2.2,-1.5" stroke-width="0.6"/><path d="M2.25,-1.8 L2.0,1.0" stroke-width="0.95"/></g>
<text transform="translate(42.00,397.74) rotate(-90)" font-size="8.0" fill="#000" textLength="37.48" lengthAdjust="spacingAndGlyphs">percolation</text>
<text transform="translate(42.00,358.12) rotate(-90)" font-size="8.0" fill="#000" textLength="34.21" lengthAdjust="spacingAndGlyphs">threshold</text>
<text transform="translate(42.00,321.21) rotate(-90)" font-size="8.0" fill="#000" textLength="4.45" lengthAdjust="spacingAndGlyphs">p</text>
<text transform="translate(43.40,316.50) rotate(-90)" font-size="4.8" fill="#000" textLength="2.40" lengthAdjust="spacingAndGlyphs">c</text>
</svg>
</body></html>
